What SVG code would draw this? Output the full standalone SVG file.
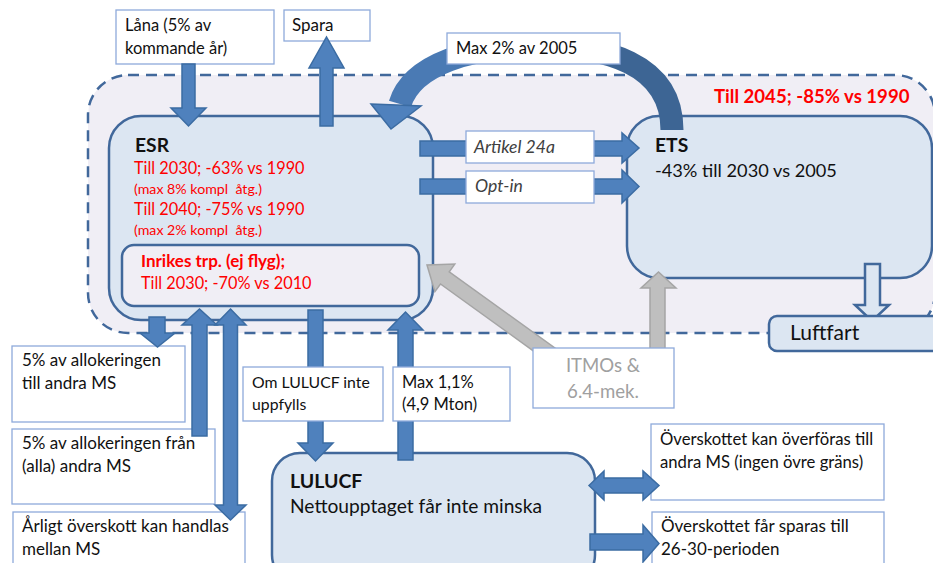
<svg xmlns="http://www.w3.org/2000/svg" width="933" height="563" viewBox="0 0 933 563">
<defs>
<style>
text{font-family:Lato,"Liberation Sans",sans-serif;font-size:17px;fill:#111}
.node{fill:#dce6f2;stroke:#41689b;stroke-width:2.5}
.lbl{fill:#fff;stroke:#8eaadb;stroke-width:1.3}
.arr{fill:#4f81bd;stroke:#3b6ca3;stroke-width:1.5;stroke-linejoin:miter}
.gray{fill:#bfbfbf;stroke:#a5a5a5;stroke-width:1.5}
.hollow{fill:#dce6f2;stroke:#41689b;stroke-width:2.5}
.red{fill:#ff0000}
.r16{font-size:16.3px}
.sm{font-size:14.2px}
.b{font-weight:bold}
.big{font-size:19.3px}
.f18{font-size:18.2px}
.f19{font-size:19.2px}
.f165{font-size:16.5px}
.lf{font-size:21px}
.it{font-style:italic;fill:#404040;font-size:17.6px}
.gt{fill:#a0a0a0;font-size:18.6px}
</style>
<linearGradient id="cg" gradientUnits="userSpaceOnUse" x1="450" y1="0" x2="620" y2="0">
<stop offset="0" stop-color="#4a7ab4"/><stop offset="1" stop-color="#3d6594"/>
</linearGradient>
</defs>

<g id="scope">
<rect x="88" y="75" width="847" height="258" rx="40" fill="#f0eef5" stroke="#41689b" stroke-width="2.5" stroke-dasharray="11,7"/>
<text x="714" y="103" class="red b" style="font-size:18.6px">Till 2045; -85% vs 1990</text>
</g>

<g id="esr">
<rect class="node" x="109" y="116" width="324" height="204" rx="32"/>
<text x="135" y="152" class="b big">ESR</text>
<text x="134" y="174" class="red r16">Till 2030; -63% vs 1990</text>
<text x="134" y="194" class="red sm" xml:space="preserve">(max 8% kompl  åtg.)</text>
<text x="134" y="215" class="red r16">Till 2040; -75% vs 1990</text>
<text x="134" y="235" class="red sm" xml:space="preserve">(max 2% kompl  åtg.)</text>
<rect x="122" y="245" width="297" height="61" rx="12" fill="#f0eef5" stroke="#41689b" stroke-width="2.5"/>
<text x="141" y="267" class="red b">Inrikes trp. (ej flyg);</text>
<text x="141" y="289" class="red r16">Till 2030; -70% vs 2010</text>
</g>

<g id="ets">
<rect class="node" x="627" y="116" width="305" height="162" rx="32"/>
<text x="655" y="152" class="b big">ETS</text>
<text x="655" y="177" class="f18">-43% till 2030 vs 2005</text>
</g>

<g id="lulucf">
<rect class="node" x="272" y="453" width="323" height="130" rx="28"/>
<text x="290" y="488" class="b" style="font-size:19.5px">LULUCF</text>
<text x="290" y="513" class="f19">Nettoupptaget får inte minska</text>
</g>

<g id="alloc-till">
<rect class="lbl" x="12" y="346" width="173" height="76"/>
<text x="22" y="366">5% av allokeringen</text>
<text x="22" y="389">till andra MS</text>
</g>
<g id="alloc-fran">
<rect class="lbl" x="12" y="429" width="203" height="75"/>
<text x="22" y="449">5% av allokeringen från</text>
<text x="22" y="472">(alla) andra MS</text>
</g>
<g id="arligt">
<rect class="lbl" x="13" y="512" width="232" height="60"/>
<text x="22" y="532">Årligt överskott kan handlas</text>
<text x="22" y="555">mellan MS</text>
</g>
<g id="overfora">
<rect class="lbl" x="651" y="424" width="233" height="76"/>
<text x="660" y="445" style="font-size:16.7px">Överskottet kan överföras till</text>
<text x="660" y="468" style="font-size:16.7px">andra MS (ingen övre gräns)</text>
</g>
<g id="sparas">
<rect class="lbl" x="652" y="512" width="232" height="60"/>
<text x="661" y="532">Överskottet får sparas till</text>
<text x="661" y="555">26-30-perioden</text>
</g>
<g id="lana">
<rect class="lbl" x="116" y="10" width="158" height="54"/>
<text x="125" y="31" class="f165">Låna (5% av</text>
<text x="125" y="54" class="f165">kommande år)</text>
</g>
<g id="spara">
<rect class="lbl" x="284" y="10" width="86" height="31"/>
<text x="292" y="31">Spara</text>
</g>

<g id="connectors">
<path d="M672,130 C672,62 602,46 540,46 C472,46 412,64 400,104" fill="none" stroke="url(#cg)" stroke-width="23"/>
<polygon class="arr" points="371,104 421,106 391,129"/>
<polygon class="arr" points="182,64 195,64 195,108 206,108 188.5,126 171,108 182,108"/>
<polygon class="arr" points="320,126 333,126 333,68 344,68 326.5,37 309,68 320,68"/>
<polygon class="arr" points="420,141 622,141 622,133 639,148 622,163 622,156 420,156"/>
<polygon class="arr" points="420,179 622,179 622,170 639,186.5 622,203 622,194 420,194"/>
<polygon class="arr" points="149,317 165,317 165,333 175,333 157.5,347 140,333 149,333"/>
<polygon class="arr" points="192,436 207,436 207,325 217,325 199.5,309 182,325 192,325"/>
<polygon class="arr" points="230.5,309 246,325 237.5,325 237.5,505 246,505 230.5,520 215,505 223.5,505 223.5,325 215,325"/>
<polygon class="arr" points="308,310 323,310 323,443 333,443 315.5,461 298,443 308,443"/>
<polygon class="arr" points="398,460 413,460 413,330 423,330 405.5,312 388,330 398,330"/>
<polygon class="arr" points="589,485.5 604,471 604,478 643,478 643,471 659,485.5 643,500 643,493 604,493 604,500"/>
<polygon class="arr" points="590,534 643,534 643,525 659,543.5 643,562 643,550 590,550"/>
<polygon class="gray" transform="translate(427,265) rotate(215.8)" points="0,0 -22,-17 -22,-7.5 -165,-7.5 -165,7.5 -22,7.5 -22,17"/>
<polygon class="gray" points="650,360 665,360 665,288 676,288 658.5,272 641,288 650,288"/>
<polygon class="hollow" points="865,264 880,264 880,305 889,305 872,321 855,305 865,305"/>
</g>

<g id="max2">
<rect class="lbl" x="447" y="33" width="173" height="31"/>
<text x="456" y="54" class="f165">Max 2% av 2005</text>
</g>
<g id="artikel">
<rect class="lbl" x="466" y="131" width="128" height="32"/>
<text x="474" y="153" class="it">Artikel 24a</text>
</g>
<g id="optin">
<rect class="lbl" x="466" y="171" width="128" height="32"/>
<text x="475" y="192" class="it">Opt-in</text>
</g>
<g id="om-lulucf">
<rect class="lbl" x="243" y="367" width="140" height="54"/>
<text x="252" y="388" style="font-size:15.8px">Om LULUCF inte</text>
<text x="252" y="410" style="font-size:15.8px">uppfylls</text>
</g>
<g id="max11">
<rect class="lbl" x="393" y="367" width="117" height="54"/>
<text x="402" y="388" class="f165">Max 1,1%</text>
<text x="402" y="410" class="f165">(4,9 Mton)</text>
</g>
<g id="itmo">
<rect class="lbl" x="533" y="348" width="141" height="60"/>
<text x="603" y="372" class="gt" text-anchor="middle">ITMOs &amp;</text>
<text x="603" y="398" class="gt" text-anchor="middle">6.4-mek.</text>
</g>
<g id="luftfart">
<rect class="node" x="769" y="316" width="180" height="35" rx="8"/>
<text x="790" y="340" class="lf">Luftfart</text>
</g>
</svg>
